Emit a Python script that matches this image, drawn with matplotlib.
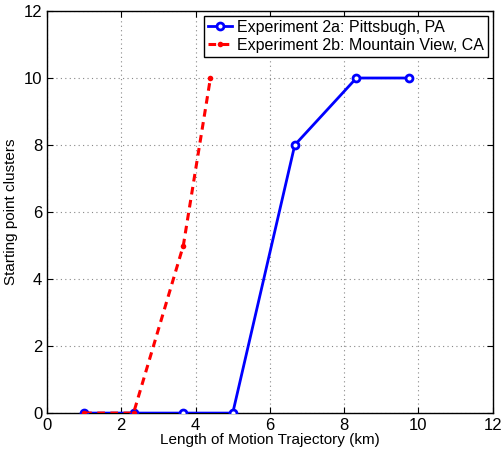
import matplotlib
matplotlib.use('Agg')
import matplotlib.pyplot as plt

plt.rcParams['font.family'] = ['Liberation Sans', 'DejaVu Sans']

# Experiment 2a: Pittsburgh
x_pitt = [1.0, 2.33, 3.67, 5.0, 6.67, 8.33, 9.75]
y_pitt = [0, 0, 0, 0, 8, 10, 10]

# Experiment 2b: Mountain View
x_mv = [1.0, 2.33, 3.67, 4.4]
y_mv = [0, 0, 5, 10]

fig = plt.figure(figsize=(5.02, 4.49), dpi=100)
ax = fig.add_axes([0.0936, 0.080, 0.888, 0.8955])

ax.plot(x_pitt, y_pitt, color='blue', linewidth=2, marker='o', markersize=5,
        markerfacecolor='white', markeredgewidth=2, label='Experiment 2a: Pittsbugh, PA', zorder=3)
ax.plot(x_mv, y_mv, color='red', linewidth=2.2, linestyle=(0, (2.5, 1.8)), marker='o', markersize=4,
        markeredgewidth=0, label='Experiment 2b: Mountain View, CA', zorder=4)

ax.set_xlim(0, 12)
ax.set_ylim(0, 12)
ax.set_xticks(range(0, 13, 2))
ax.set_yticks(range(0, 13, 2))
ax.grid(True, linestyle=(0, (1, 3)), color='#888888', linewidth=0.8)
ax.tick_params(direction='in', top=True, right=True, labelsize=12, length=4)
for s in ax.spines.values():
    s.set_linewidth(1)

ax.set_xlabel('Length of Motion Trajectory (km)', fontsize=11, labelpad=0)
ax.set_ylabel('Starting point clusters', fontsize=11, labelpad=4)

leg = ax.legend(loc='upper right', fontsize=11.5, fancybox=False, edgecolor='black',
                framealpha=1, borderaxespad=0.3, handlelength=1.5, borderpad=0.25,
                labelspacing=0.2, handletextpad=0.3)
leg.get_frame().set_linewidth(1)

fig.savefig('out.png', dpi=100)
